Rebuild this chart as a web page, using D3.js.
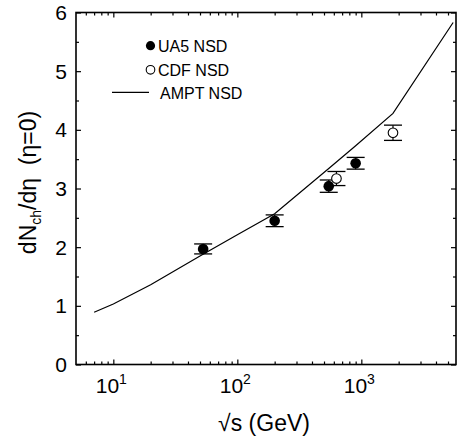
<!DOCTYPE html>
<html>
<head>
<meta charset="utf-8">
<script src="https://cdn.jsdelivr.net/npm/d3@7"></script>
<style>
  html, body { margin: 0; padding: 0; background: #fff; }
  svg { display: block; font-family: "Liberation Sans", Arial, Helvetica, sans-serif; }
</style>
</head>
<body>
<svg id="chart" width="460" height="442"></svg>
<script>
// Charged-particle pseudorapidity density at mid-rapidity vs collision energy
const ua5Energy = [53, 200, 546, 900];
const ua5Value  = [1.97, 2.45, 3.04, 3.43];
const ua5Error  = [0.085, 0.10, 0.105, 0.10];

const cdfEnergy = [630, 1800];
const cdfValue  = [3.17, 3.95];
const cdfError  = [0.12, 0.13];

const amptEnergy = [7, 10, 20, 50, 100, 200, 546, 900, 1800, 5500];
const amptValue  = [0.89, 1.03, 1.36, 1.85, 2.21, 2.57, 3.34, 3.73, 4.28, 5.83];

const yMajorTicks = [0, 1, 2, 3, 4, 5, 6];
const yMinorTicks = [0.5, 1.5, 2.5, 3.5, 4.5, 5.5];
const xDecadeExponents = [1, 2, 3];
const xMinorTicks = [6, 7, 8, 9, 20, 30, 40, 50, 60, 70, 80, 90,
                     200, 300, 400, 500, 600, 700, 800, 900, 2000, 3000, 4000, 5000];

const legendLabels = ["UA5 NSD", "CDF NSD", "AMPT NSD"];

const svg = d3.select("#chart");
svg.append("rect").attr("width", 460).attr("height", 442).attr("fill", "#fff");

const plotLeft = 76, plotRight = 456, plotTop = 12.5, plotBottom = 364.5;

const x = d3.scaleLog().domain([5, 5800]).range([plotLeft, plotRight]);
const y = d3.scaleLinear().domain([0, 6]).range([plotBottom, plotTop]);

// Axes with inward ticks on all four sides
function addAxis(axisFn, scale, values, size, transform) {
  svg.append("g")
    .attr("transform", transform)
    .call(axisFn(scale).tickValues(values).tickSize(size).tickSizeOuter(0).tickFormat(""))
    .call(g => g.select(".domain").remove())
    .call(g => g.selectAll(".tick line").attr("stroke", "#000").attr("stroke-width", 1.2));
}
const xMajor = xDecadeExponents.map(e => Math.pow(10, e));
addAxis(d3.axisBottom, x, xMajor, -5, `translate(0,${plotBottom})`);
addAxis(d3.axisBottom, x, xMinorTicks, -3, `translate(0,${plotBottom})`);
addAxis(d3.axisTop, x, xMajor, -5, `translate(0,${plotTop})`);
addAxis(d3.axisTop, x, xMinorTicks, -3, `translate(0,${plotTop})`);
addAxis(d3.axisLeft, y, yMajorTicks, -5, `translate(${plotLeft},0)`);
addAxis(d3.axisLeft, y, yMinorTicks, -3, `translate(${plotLeft},0)`);
addAxis(d3.axisRight, y, yMajorTicks, -5, `translate(${plotRight},0)`);
addAxis(d3.axisRight, y, yMinorTicks, -3, `translate(${plotRight},0)`);

svg.append("rect")
  .attr("x", plotLeft).attr("y", plotTop)
  .attr("width", plotRight - plotLeft).attr("height", plotBottom - plotTop)
  .attr("fill", "none").attr("stroke", "#000").attr("stroke-width", 1.6);

// Tick labels
svg.append("g").selectAll("text")
  .data(yMajorTicks)
  .join("text")
  .attr("x", plotLeft - 9)
  .attr("y", d => y(d))
  .attr("dy", "0.36em")
  .attr("text-anchor", "end")
  .attr("font-size", 21)
  .text(d => d);

const xl = svg.append("g").selectAll("text")
  .data(xDecadeExponents)
  .join("text")
  .attr("x", d => x(Math.pow(10, d)) - 2)
  .attr("y", plotBottom + 28)
  .attr("text-anchor", "middle")
  .attr("font-size", 21);
xl.append("tspan").text("10");
xl.append("tspan").attr("font-size", 14).attr("dy", -9).text(d => d);

// Axis titles
svg.append("text")
  .attr("x", (plotLeft + plotRight) / 2 - 2)
  .attr("y", 431)
  .attr("text-anchor", "middle")
  .attr("font-size", 23)
  .text("\u221As (GeV)");

const yt = svg.append("text")
  .attr("transform", `translate(36,${(plotTop + plotBottom) / 2 - 6}) rotate(-90)`)
  .attr("text-anchor", "middle")
  .attr("font-size", 23);
yt.append("tspan").text("dN");
yt.append("tspan").attr("font-size", 14).attr("dy", 5).text("ch");
yt.append("tspan").attr("dy", -5).text("/d\u03B7\u00A0 (\u03B7=0)");

// AMPT curve
const amptData = amptEnergy.map((e, i) => ({ e, v: amptValue[i] }));
svg.append("path")
  .datum(amptData)
  .attr("fill", "none")
  .attr("stroke", "#000")
  .attr("stroke-width", 1.2)
  .attr("d", d3.line().x(d => x(d.e)).y(d => y(d.v)));

// Data points with error bars
function drawSeries(energy, value, error, filled) {
  const data = energy.map((e, i) => ({ e, v: value[i], err: error[i] }));
  const g = svg.append("g");
  const cap = 9;
  data.forEach(d => {
    const cx = x(d.e);
    g.append("line").attr("x1", cx).attr("x2", cx)
      .attr("y1", y(d.v - d.err)).attr("y2", y(d.v + d.err))
      .attr("stroke", "#000").attr("stroke-width", 1.2);
    [d.v - d.err, d.v + d.err].forEach(v => {
      g.append("line").attr("x1", cx - cap).attr("x2", cx + cap)
        .attr("y1", y(v)).attr("y2", y(v))
        .attr("stroke", "#000").attr("stroke-width", 1.3);
    });
  });
  g.selectAll("circle")
    .data(data)
    .join("circle")
    .attr("cx", d => x(d.e))
    .attr("cy", d => y(d.v))
    .attr("r", filled ? 5.3 : 4.8)
    .attr("fill", filled ? "#000" : "#fff")
    .attr("stroke", "#000")
    .attr("stroke-width", filled ? 0 : 1.1);
}
drawSeries(ua5Energy, ua5Value, ua5Error, true);
drawSeries(cdfEnergy, cdfValue, cdfError, false);

// Legend
const lg = svg.append("g").attr("font-size", 16);
lg.append("circle").attr("cx", 150.5).attr("cy", 45.7).attr("r", 4.6).attr("fill", "#000");
lg.append("text").attr("x", 158).attr("y", 51.7).text(legendLabels[0]);
lg.append("circle").attr("cx", 150.5).attr("cy", 69.8).attr("r", 4.3)
  .attr("fill", "#fff").attr("stroke", "#000").attr("stroke-width", 1.1);
lg.append("text").attr("x", 158).attr("y", 75.5).text(legendLabels[1]);
lg.append("line").attr("x1", 112).attr("x2", 149).attr("y1", 92.3).attr("y2", 92.3)
  .attr("stroke", "#000").attr("stroke-width", 1.2);
lg.append("text").attr("x", 160).attr("y", 98.5).text(legendLabels[2]);
</script>
</body>
</html>
